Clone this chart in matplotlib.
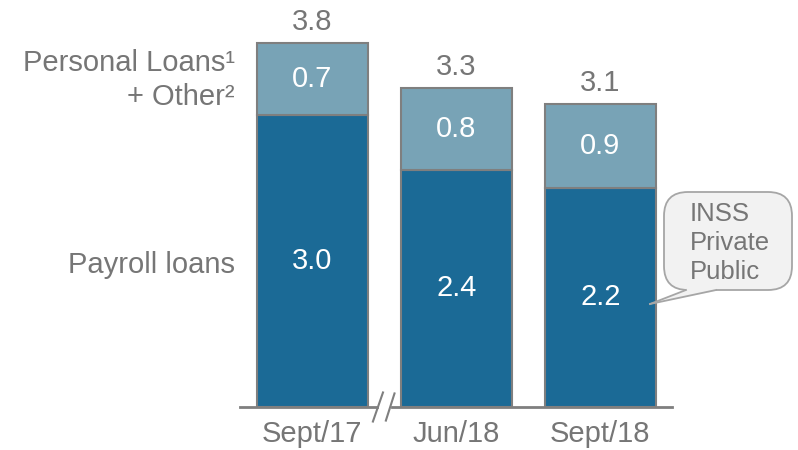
import matplotlib.pyplot as plt
from matplotlib.patches import FancyBboxPatch, Polygon

plt.rcParams['font.family'] = ['Liberation Sans', 'DejaVu Sans']

periods = ["Sept/17", "Jun/18", "Sept/18"]
# segment heights (unrounded, as drawn) and the labels shown on the chart
payroll = [3.01, 2.45, 2.26]
personal_other = [0.75, 0.84, 0.87]
payroll_lbl = ["3.0", "2.4", "2.2"]
personal_lbl = ["0.7", "0.8", "0.9"]
total_lbl = ["3.8", "3.3", "3.1"]
callout_lines = ["INSS", "Private", "Public"]

dark = "#1B6A96"
light = "#78A3B6"
edge = "#7F7F7F"
grey_txt = "#767676"
fs = 21

fig = plt.figure(figsize=(7.98, 4.5), dpi=100)
ax = fig.add_axes([240 / 798, 43 / 450, 432 / 798, 407 / 450])

x = list(range(len(periods)))
ax.bar(x, payroll, width=0.77, color=dark, edgecolor=edge, linewidth=1.5)
ax.bar(x, personal_other, width=0.77, bottom=payroll, color=light,
       edgecolor=edge, linewidth=1.5)

for i in x:
    top = payroll[i] + personal_other[i]
    ax.text(i, payroll[i] / 2, payroll_lbl[i], ha="center", va="center",
            color="white", fontsize=fs)
    ax.text(i, payroll[i] + personal_other[i] / 2, personal_lbl[i],
            ha="center", va="center", color="white", fontsize=fs)
    ax.annotate(total_lbl[i], (i, top), xytext=(0, 5), textcoords="offset points",
                ha="center", va="bottom", color=grey_txt, fontsize=fs)

ax.set_xlim(-0.503, 2.497)
ax.set_ylim(0, 4.2)
for s in ax.spines.values():
    s.set_visible(False)
ax.set_yticks([])
ax.set_xticks(x, periods, fontsize=fs, color=grey_txt)
ax.tick_params(axis="x", length=0, pad=9)

# baseline with a break between the first two bars
ax.plot([-0.503, 0.45], [0, 0], color=edge, lw=2, clip_on=False)
ax.plot([0.55, 2.497], [0, 0], color=edge, lw=2, clip_on=False)
ax.plot([0.42, 0.49], [-0.15, 0.15], color=edge, lw=1.5, clip_on=False)
ax.plot([0.51, 0.57], [-0.14, 0.14], color=edge, lw=1.5, clip_on=False)

# left-side series labels
ax.text(-0.54, 3.55, "Personal Loans¹", ha="right", va="center",
        color=grey_txt, fontsize=fs)
ax.text(-0.54, 3.2, "+ Other²", ha="right", va="center",
        color=grey_txt, fontsize=fs)
ax.text(-0.54, 1.47, "Payroll loans", ha="right", va="center",
        color=grey_txt, fontsize=fs)


# callout bubble (pixel positions of the figure, y measured from top)
def px(xp, yp):
    return (xp / 798, 1 - yp / 450)


bx0, by0 = px(664, 290)
bx1, by1 = px(792, 192)
box = FancyBboxPatch((bx0, by0), bx1 - bx0, by1 - by0,
                     boxstyle="round,pad=0,rounding_size=0.03",
                     transform=fig.transFigure, fc="#F2F2F2", ec="#A6A6A6",
                     lw=1.3, mutation_aspect=798 / 450)
fig.add_artist(box)
tail = Polygon([px(686, 287), px(716, 287), px(716, 291), px(650, 304),
                px(686, 291)], closed=True, transform=fig.transFigure,
               fc="#F2F2F2", ec="none")
fig.add_artist(tail)
for p0 in [(686, 290), (716, 290)]:
    a, b = px(*p0)
    c, d = px(650, 304)
    fig.add_artist(plt.Line2D([a, c], [b, d], transform=fig.transFigure,
                              color="#A6A6A6", lw=1.3))
tx, ty = px(690, 243)
fig.text(tx, ty, "\n".join(callout_lines), ha="left", va="center",
         fontsize=18.5, color=grey_txt, linespacing=1.27)

fig.savefig("out.png", dpi=100)
